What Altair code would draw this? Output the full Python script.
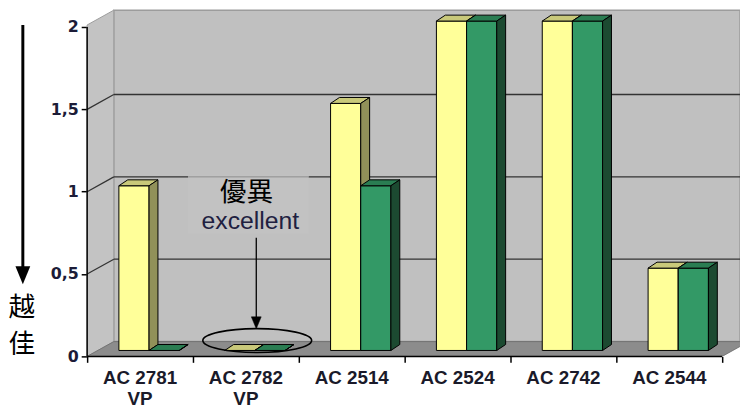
import altair as alt
import pandas as pd

# ---------------- data ----------------
categories = ["AC 2781\nVP", "AC 2782\nVP", "AC 2514", "AC 2524", "AC 2742", "AC 2544"]
yellow_vals = [1.0, 0.0, 1.5, 2.0, 2.0, 0.5]
green_vals = [0.0, 0.0, 1.0, 2.0, 2.0, 0.5]
y_ticks = [0, 0.5, 1, 1.5, 2]

# ---------------- styling / 3-D geometry ----------------
X_MAX = 660 / 107          # category units visible
Y_MAX = 350 / 166.5        # value units visible
FLOOR_DX, FLOOR_DY = 0.252, 0.09
BAR_DX, BAR_DY = 0.084, 0.036
BASE = 0.036
BAR_W = 0.285
BAR_START = 0.30
N = len(categories)

series = [
    ("yellow", yellow_vals, "#FFFF99", "#C9C97A", "#919159"),
    ("green", green_vals, "#339966", "#2A7D52", "#1C4A31"),
]

xs = alt.Scale(domain=[0, X_MAX], nice=False, zero=False)
ys = alt.Scale(domain=[0, Y_MAX], nice=False, zero=False)

y_axis = alt.Axis(values=y_ticks, format="~g", labelExpr="replace(datum.label, '.', ',')",
                  title=None, grid=False, domain=False, tickSize=6, tickWidth=1.5,
                  tickColor="black", labelFont="DejaVu Sans", labelFontWeight="bold",
                  labelFontSize=16, labelColor="#1c1c38", labelPadding=3)
x_axis = alt.Axis(values=list(range(N + 1)), labels=False, title=None, grid=False,
                  domain=False, tickSize=6, tickWidth=1.5, tickColor="black")


def X(f):
    return alt.X(f, type="quantitative", scale=xs, axis=x_axis)


def Y(f):
    return alt.Y(f, type="quantitative", scale=ys, axis=y_axis)


def X2(f):
    return alt.X2(f)


def Y2(f):
    return alt.Y2(f)


layers = []

# back wall
wall = pd.DataFrame([{"x0": FLOOR_DX, "x1": X_MAX, "y0": FLOOR_DY, "y1": Y_MAX}])
layers.append(alt.Chart(wall).mark_rect(fill="#C0C0C0", stroke="#9C9C9C", strokeWidth=1.5).encode(
    x=X("x0"), x2=X2("x1"), y=Y("y0"), y2=Y2("y1")))

# left side wall
lw = pd.DataFrame([{"x": 0.0, "y": 0.0, "y2": Y_MAX - FLOOR_DY},
                   {"x": FLOOR_DX, "y": FLOOR_DY, "y2": Y_MAX}])
layers.append(alt.Chart(lw).mark_area(fill="#C3C3C3", stroke="#9C9C9C", strokeWidth=1).encode(
    x=X("x"), y=Y("y"), y2=Y2("y2")))

# floor
fl = pd.DataFrame([{"y": 0.0, "x": 0.0, "x2": float(N)},
                   {"y": FLOOR_DY, "x": FLOOR_DX, "x2": N + FLOOR_DX}])
layers.append(alt.Chart(fl).mark_area(orient="horizontal", fill="#8C8C8C", stroke="#6A6A6A",
                                      strokeWidth=0.8, clip=True).encode(
    y=Y("y"), x=X("x"), x2=X2("x2")))

# back-wall gridlines
grid_vals = [v for v in y_ticks if 0 < v < 2]
gw = pd.DataFrame([{"y": v + FLOOR_DY, "x": FLOOR_DX, "x2": X_MAX} for v in grid_vals])
layers.append(alt.Chart(gw).mark_rule(color="#333333", strokeWidth=1.3).encode(
    y=Y("y"), x=X("x"), x2=X2("x2")))

# side-wall slanted gridlines
gs_rows = []
for v in grid_vals:
    gs_rows.append({"g": v, "x": 0.0, "y": v})
    gs_rows.append({"g": v, "x": FLOOR_DX, "y": v + FLOOR_DY})
layers.append(alt.Chart(pd.DataFrame(gs_rows)).mark_line(color="#333333", strokeWidth=1.3).encode(
    x=X("x"), y=Y("y"), detail="g:N"))

# y axis line and x axis line
layers.append(alt.Chart(pd.DataFrame([{"x": 0.0, "y": 0.0, "y2": 2.0}])).mark_rule(
    color="black", strokeWidth=1.5).encode(x=X("x"), y=Y("y"), y2=Y2("y2")))
layers.append(alt.Chart(pd.DataFrame([{"x": 0.0, "x2": float(N), "y": 0.0}])).mark_rule(
    color="black", strokeWidth=1.5).encode(x=X("x"), x2=X2("x2"), y=Y("y")))

# text box behind annotation
box = pd.DataFrame([{"x": 0.953, "x2": 2.093, "y": 0.745, "y2": 1.1}])
layers.append(alt.Chart(box).mark_rect(fill="#C2C2C2").encode(
    x=X("x"), x2=X2("x2"), y=Y("y"), y2=Y2("y2")))
layers.append(alt.Chart(pd.DataFrame([{"x": 0.953, "x2": 2.093, "y": 1.0 + FLOOR_DY}])).mark_rule(
    color="#8E8E8E", strokeWidth=1).encode(x=X("x"), x2=X2("x2"), y=Y("y")))

# 3-D bars
for s, (name, vals, c_front, c_top, c_side) in enumerate(series):
    front, top, side = [], [], []
    for i, v in enumerate(vals):
        x0 = i + BAR_START + s * BAR_W
        x1 = x0 + BAR_W
        t = BASE + v
        front.append({"cat": i, "x0": x0, "x1": x1, "b": BASE, "t": t})
        top.append({"cat": i, "y": t, "x": x0, "x2": x1})
        top.append({"cat": i, "y": t + BAR_DY, "x": x0 + BAR_DX, "x2": x1 + BAR_DX})
        side.append({"cat": i, "x": x1, "y": t, "y2": BASE})
        side.append({"cat": i, "x": x1 + BAR_DX, "y": t + BAR_DY, "y2": BASE + BAR_DY})
    layers.append(alt.Chart(pd.DataFrame(front)).mark_rect(
        fill=c_front, stroke="black", strokeWidth=1).encode(
        x=X("x0"), x2=X2("x1"), y=Y("b"), y2=Y2("t")))
    layers.append(alt.Chart(pd.DataFrame(top)).mark_area(
        orient="horizontal", fill=c_top, stroke="black", strokeWidth=1).encode(
        y=Y("y"), x=X("x"), x2=X2("x2"), detail="cat:N"))
    layers.append(alt.Chart(pd.DataFrame(side)).mark_area(
        fill=c_side, stroke="black", strokeWidth=1).encode(
        x=X("x"), y=Y("y"), y2=Y2("y2"), detail="cat:N"))

# category labels
lab = pd.DataFrame({"label": categories, "cx": [i + 0.5 for i in range(N)]})
layers.append(alt.Chart(lab).mark_text(
    lineBreak="\n", lineHeight=21, font="Liberation Sans", fontWeight="bold", fontSize=19,
    color="#1a1a2a", align="center", baseline="alphabetic").encode(
    x=X("cx"), y=alt.value(378), text="label:N"))

# annotation: ellipse + arrow + text ("excellent")
ell = pd.DataFrame([{"x": 1.607, "y": 0.096}])
layers.append(alt.Chart(ell).mark_point(
    shape="M -1 0 A 1 0.22 0 1 0 1 0 A 1 0.22 0 1 0 -1 0 Z",
    size=12100, filled=False, stroke="black", strokeWidth=1.6, opacity=1).encode(
    x=X("x"), y=Y("y")))
arr = pd.DataFrame([{"x": 1.598, "y": 0.721, "y2": 0.22}])
layers.append(alt.Chart(arr).mark_rule(color="black", strokeWidth=1.3).encode(
    x=X("x"), y=Y("y"), y2=Y2("y2")))
layers.append(alt.Chart(pd.DataFrame([{"x": 1.598, "y": 0.204}])).mark_point(
    shape="M -1 -1.2 L 1 -1.2 L 0 1.2 Z", size=100, filled=True, fill="black",
    stroke="black", strokeWidth=0.5, opacity=1).encode(x=X("x"), y=Y("y")))
layers.append(alt.Chart(pd.DataFrame([{"x": 1.505, "y": 0.991, "t": "優異"}])).mark_text(
    font="Noto Sans CJK TC", fontSize=27, color="black", baseline="middle", align="center").encode(
    x=X("x"), y=Y("y"), text="t:N"))
layers.append(alt.Chart(pd.DataFrame([{"x": 1.542, "y": 0.823, "t": "excellent"}])).mark_text(
    font="Liberation Sans", fontSize=25, color="#202040", baseline="middle", align="center").encode(
    x=X("x"), y=Y("y"), text="t:N"))

# left "better" arrow with 越 佳
layers.append(alt.Chart(pd.DataFrame([{"a": 0}])).mark_rule(color="black", strokeWidth=3).encode(
    x=alt.value(-65), y=alt.value(15), y2=alt.value(262)))
layers.append(alt.Chart(pd.DataFrame([{"a": 0}])).mark_point(
    shape="M -1 -1.2 L 1 -1.2 L 0 1.2 Z", size=225, filled=True, fill="black",
    opacity=1).encode(x=alt.value(-65), y=alt.value(268)))
side_txt = [("越", 301), ("佳", 339)]
for ch, py in side_txt:
    layers.append(alt.Chart(pd.DataFrame([{"t": ch}])).mark_text(
        font="Noto Sans CJK TC", fontSize=27, color="black", baseline="middle", align="center").encode(
        x=alt.value(-66), y=alt.value(py), text="t:N"))

chart = alt.layer(*layers).properties(
    width=660, height=350,
    autosize=alt.AutoSizeParams(type="none"),
    padding={"left": 80, "top": 0, "right": 0, "bottom": 52},
    background="white",
).configure_view(strokeWidth=0)

chart.save("out.html", embed_options={"renderer": "svg", "actions": False})
